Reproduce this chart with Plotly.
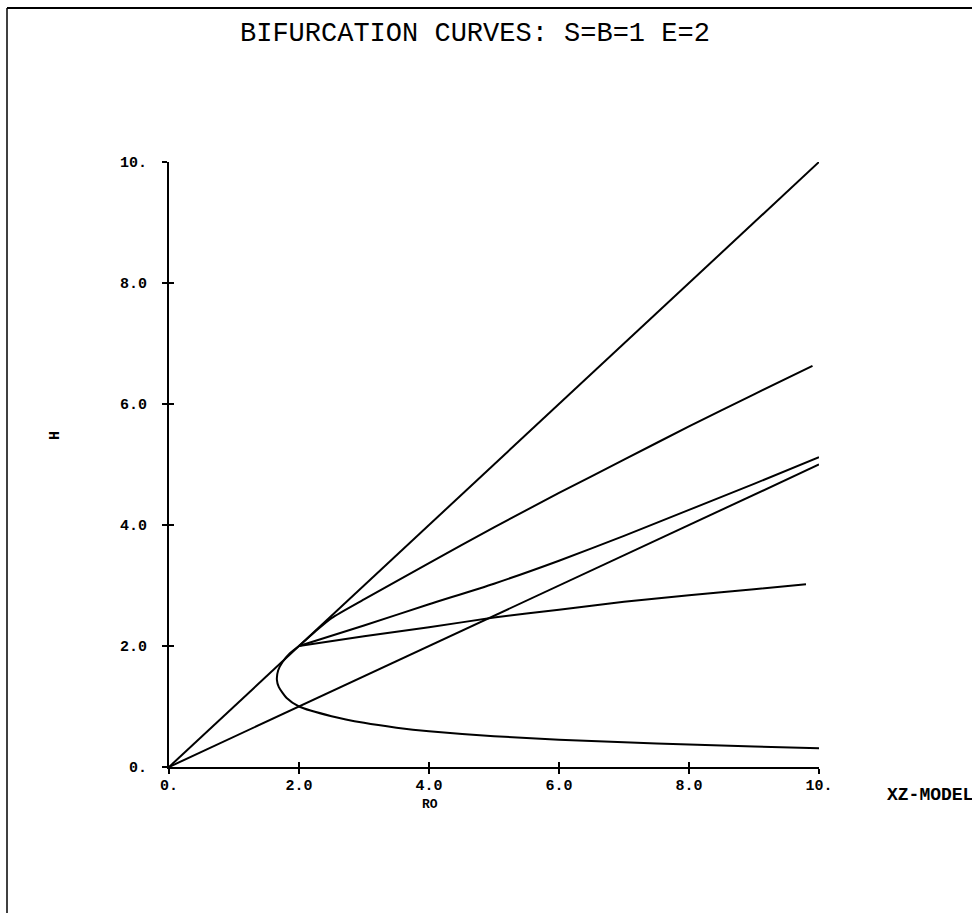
import plotly.graph_objects as go

# ---- data ----
diag_ro = [0.0, 10.0]
diag_h = [0.0, 10.0]

half_ro = [0.0, 10.0]
half_h = [0.0, 5.0]

nose_ro = [2.0, 1.86, 1.75, 1.68, 1.66, 1.69, 1.81, 2.0, 2.5, 3.0, 3.5, 4.0, 5.0, 6.0, 7.0, 8.0, 9.0, 10.0]
nose_h = [2.0, 1.88, 1.74, 1.60, 1.44, 1.32, 1.14, 1.0, 0.84, 0.73, 0.65, 0.59, 0.51, 0.45, 0.41, 0.37, 0.34, 0.31]

upper_ro = [2.0, 2.25, 2.5, 3.0, 4.0, 5.0, 6.0, 7.0, 8.0, 9.0, 9.9]
upper_h = [2.0, 2.24, 2.46, 2.77, 3.37, 3.96, 4.53, 5.08, 5.63, 6.16, 6.63]

mid_ro = [2.0, 3.0, 4.0, 5.0, 6.0, 7.0, 8.0, 9.0, 10.0]
mid_h = [2.0, 2.34, 2.69, 3.03, 3.41, 3.82, 4.25, 4.68, 5.12]

low_ro = [2.0, 3.0, 4.0, 5.0, 6.0, 7.0, 8.0, 9.0, 9.8]
low_h = [2.0, 2.16, 2.31, 2.47, 2.60, 2.73, 2.84, 2.94, 3.02]

tick_vals = [0, 2, 4, 6, 8, 10]
tick_text = ["0.", "2.0", "4.0", "6.0", "8.0", "10."]

title_text = "BIFURCATION CURVES: S=B=1 E=2"
x_title = "RO"
y_title = "H"
corner_text = "XZ-MODEL"

# ---- layout geometry (pixels) ----
W, H = 972, 913
L, R, T, B = 169, 819, 162, 767


def px(xp):
    return (xp - L) / (R - L)


def py(yp):
    return (B - yp) / (B - T)


fig = go.Figure()
for xs, ys, shape in [
    (diag_ro, diag_h, "linear"),
    (half_ro, half_h, "linear"),
    (nose_ro, nose_h, "spline"),
    (upper_ro, upper_h, "spline"),
    (mid_ro, mid_h, "spline"),
    (low_ro, low_h, "spline"),
]:
    fig.add_trace(go.Scatter(x=xs, y=ys, mode="lines",
                             line=dict(color="black", width=2, shape=shape, smoothing=0.6),
                             showlegend=False, hoverinfo="skip"))

# invisible trace to activate overlay axes (inside ticks)
fig.add_trace(go.Scatter(x=[0], y=[0], xaxis="x2", yaxis="y2", mode="markers",
                         marker=dict(opacity=0), showlegend=False, hoverinfo="skip"))

tickfont = dict(family="Liberation Mono", size=15, color="black", weight="bold")

axis_common = dict(range=[0, 10], tickvals=tick_vals, ticktext=tick_text,
                   showgrid=False, zeroline=False, showline=True,
                   linecolor="black", linewidth=2, ticks="outside", ticklen=5,
                   tickwidth=2, tickcolor="black", tickfont=tickfont)

fig.update_layout(
    width=W, height=H,
    margin=dict(l=L, r=W - R, t=T, b=H - B, pad=0),
    paper_bgcolor="white", plot_bgcolor="white",
    xaxis=dict(**axis_common, ticklabelstandoff=-2),
    yaxis=dict(**axis_common, ticklabelstandoff=12),
    xaxis2=dict(range=[0, 10], tickvals=tick_vals, showticklabels=False,
                overlaying="x", ticks="inside", ticklen=5, tickwidth=2,
                tickcolor="black", showgrid=False, zeroline=False, showline=False),
    yaxis2=dict(range=[0, 10], tickvals=tick_vals, showticklabels=False,
                overlaying="y", ticks="inside", ticklen=5, tickwidth=2,
                tickcolor="black", showgrid=False, zeroline=False, showline=False),
    showlegend=False,
)

annotations = [
    dict(text=title_text, x=px(475), y=py(34), xanchor="center", yanchor="middle",
         font=dict(family="Liberation Mono", size=27, color="black")),
    dict(text=x_title, x=px(430), y=py(804), xanchor="center", yanchor="middle",
         font=dict(family="Liberation Mono", size=13, color="black", weight="bold")),
    dict(text=y_title, x=px(55), y=py(436), xanchor="center", yanchor="middle",
         textangle=-90,
         font=dict(family="Liberation Mono", size=15, color="black", weight="bold")),
    dict(text=corner_text, x=px(885), y=py(795), xanchor="left", yanchor="middle",
         font=dict(family="Liberation Mono", size=18, color="black", weight="bold")),
]
for a in annotations:
    a.update(xref="paper", yref="paper", showarrow=False)
fig.update_layout(annotations=annotations)

# page frame (left and top edges)
fig.add_shape(type="line", xref="paper", yref="paper", layer="above",
              x0=px(7), x1=px(7), y0=py(8), y1=py(913),
              line=dict(color="black", width=1.5))
fig.add_shape(type="line", xref="paper", yref="paper", layer="above",
              x0=px(7), x1=px(972), y0=py(8), y1=py(8),
              line=dict(color="black", width=2))

fig.write_html("out.html", config={"displayModeBar": False},
               post_script="document.body.style.margin='0px';document.body.style.overflow='hidden';")
